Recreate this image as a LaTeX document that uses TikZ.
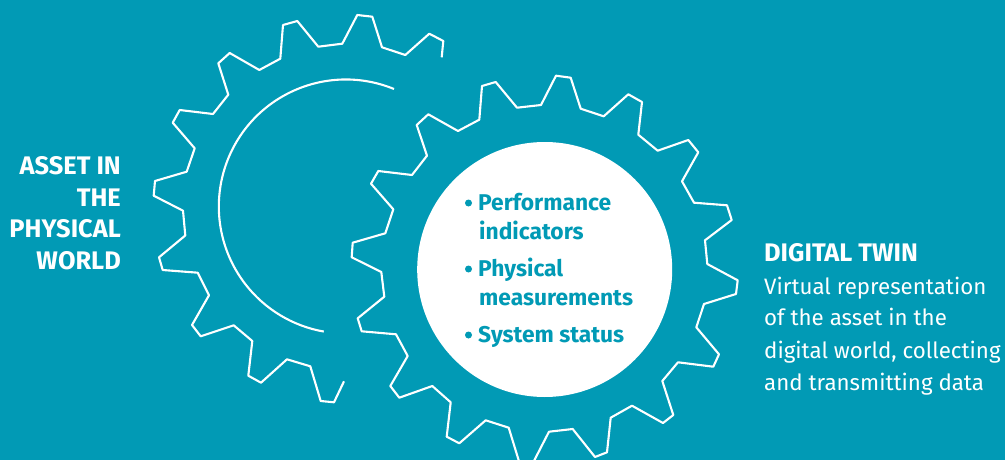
\documentclass[tikz,border=0pt]{standalone}
\usepackage{fontspec}
\setmainfont{Fira Sans}
\definecolor{teal1}{HTML}{019AB5}
\tikzset{
  x=1pt,y=-1pt,
  gear/.style={draw=white,line width=2.1pt,line join=round},
  hub/.style={fill=white,draw=none},
  head/.style={font=\bfseries\fontsize{25.4}{27}\selectfont,text=white,anchor=base east,inner sep=0pt},
  item/.style={font=\bfseries\fontsize{22.8}{24}\selectfont,text=teal1,anchor=base west,inner sep=0pt},
  bullet/.style={circle,fill=teal1,draw=none,inner sep=0pt,minimum size=7pt},
  desc/.style={font=\fontsize{22.3}{24}\selectfont,text=white,anchor=base west,inner sep=0pt}
}
\begin{document}
\begin{tikzpicture}
\useasboundingbox (0,0) rectangle (1005,460);
\fill[teal1] (0,0) rectangle (1005,460);
\begin{scope}
\clip (0,0) rectangle (1005,460);
\draw[gear] (441.7,57.3)--(443.3,41)--(429.3,33.7)--(405.3,55)--(382,47.3)--(372.3,16.7)--(357.3,15)--(342.3,43.7)--(318.3,46.7)--(297.3,21)--(283,25)--(280.3,58.7)--(259.3,70)--(229.7,53)--(218.3,63.3)--(228.3,94.7)--(213,114)--(179.7,110)--(172.7,122.7)--(194.7,148.3)--(186.7,171.7)--(155,181)--(153.7,195.7)--(183,210.7)--(185.3,235.5)--(159,257.3)--(162.7,270)--(197.7,272.7)--(209,295.3)--(192,325)--(200.7,336.3)--(233.7,325.3)--(252.3,341)--(248.3,375.7)--(261,382.7)--(287,359.3)--(310.3,366.3)--(320.7,401)--(334,402.3)--(344,381.3);
\draw[gear] (458,131)--(479.3,119.7)--(482,86)--(495.7,82)--(517,107.7)--(541,105)--(556,75.7)--(570.7,77.7)--(580.7,108.7)--(603.7,116.3)--(628.3,94.3)--(642,102)--(638.3,134.7)--(657.7,150.7)--(688.3,140)--(698.3,152.3)--(682,181.3)--(694,202.7)--(727,205.3)--(731.7,220)--(705,240.3)--(707.3,264)--(737.7,280.3)--(736,294)--(704,304)--(696.3,327.3)--(719,354.3)--(713.3,366.7)--(678,362.3)--(662.3,381)--(673.3,415)--(663,423)--(632,405.7)--(610.7,417.7)--(607,452.3)--(595,457)--(572.7,429)--(549,431.7)--(532.6,463.6)--(519.3,462.3)--(508.7,427.7)--(485.7,420.3)--(459.3,443.3)--(446.7,436.7)--(450.7,402.3)--(432.3,386)--(399.3,397.7)--(390.3,386)--(407.7,356)--(396,334.3)--(361.7,331.3)--(357.7,318.3)--(384.3,296.7)--(381.3,272)--(351.7,257.3)--(352.7,242.7)--(385.3,233.3)--(393.3,209.3)--(371,183.7)--(378.3,171)--(412,175)--(427,155.7)--(416.7,125)--(428.3,114.3)--(458,131)--cycle;
\end{scope}
\draw[gear] (394,89) arc[start angle=67.7,end angle=260,radius=127pt];
\node[hub,circle,minimum size=255pt,inner sep=0pt] (hubc) at (544.7,269.5) {};
\node[head] (a1) at (121,174.5) {ASSET IN};
\node[head] (a2) at (121,206) {THE};
\node[head] (a3) at (121,237.5) {PHYSICAL};
\node[head] (a4) at (121,269) {WORLD};
\node[bullet] (b1) at (468.5,203) {};
\node[item] (p1) at (478,210) {Performance};
\node[item] (p2) at (479,239) {indicators};
\node[bullet] (b2) at (468.5,269) {};
\node[item] (p3) at (478,276) {Physical};
\node[item] (p4) at (479,305) {measurements};
\node[bullet] (b3) at (468.5,335) {};
\node[item] (p5) at (478,342) {System status};
\node[desc,font=\bfseries\fontsize{25.4}{27}\selectfont] (d0) at (764,261) {DIGITAL TWIN};
\node[desc] (d1) at (764,294) {Virtual representation};
\node[desc] (d2) at (764,325) {of the asset in the};
\node[desc] (d3) at (764,358) {digital world, collecting};
\node[desc] (d4) at (764,390) {and transmitting data};
\end{tikzpicture}
\end{document}
